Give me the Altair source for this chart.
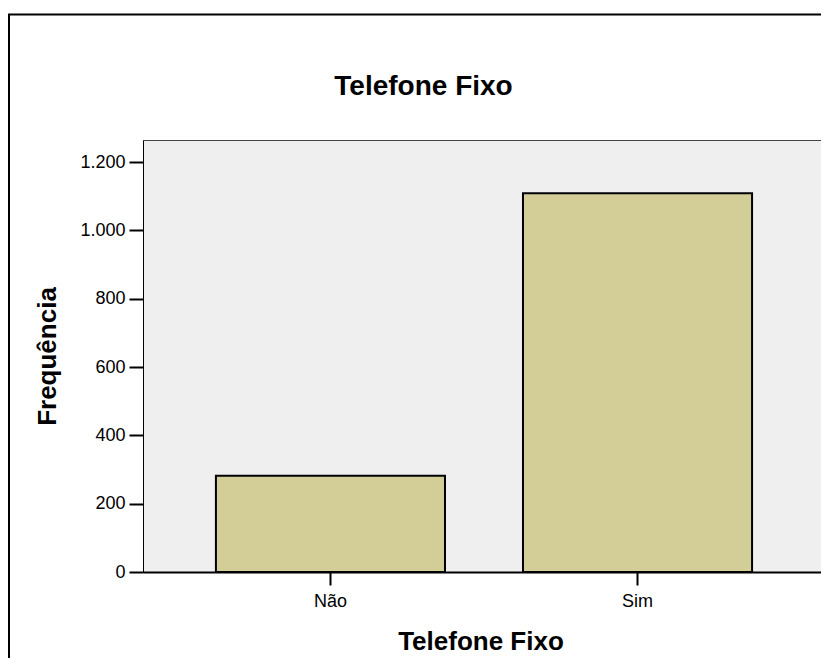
import altair as alt
import pandas as pd

categories = ["Não", "Sim"]
frequencies = [282, 1109]
y_ticks = [0, 200, 400, 600, 800, 1000, 1200]
chart_title = "Telefone Fixo"
x_title = "Telefone Fixo"
y_title = "Frequência"

FONT = "Liberation Sans"

df = pd.DataFrame({"cat": categories, "freq": frequencies})
title_df = pd.DataFrame({"t": [chart_title]})

frame = alt.Chart(title_df).mark_rect(
    fill="white", fillOpacity=0, stroke="black", strokeWidth=2
).encode(
    x=alt.value(-134), x2=alt.value(760), y=alt.value(-125.5), y2=alt.value(640)
)

bars = alt.Chart(df).mark_bar(color="#d3ce98", stroke="black", strokeWidth=2).encode(
    x=alt.X(
        "cat:N",
        sort=categories,
        scale=alt.Scale(paddingInner=0.254, paddingOuter=0.231, align=0.514),
        axis=alt.Axis(
            title=x_title, labelAngle=0, tickSize=13, tickWidth=2, tickColor="black",
            domainColor="black", domainWidth=2,
            labelFont=FONT, labelFontSize=18, labelColor="black", labelPadding=7,
            titleFont=FONT, titleFontSize=26, titleFontWeight="bold", titleColor="black",
            titleX=337.5, titleY=77, titleBaseline="alphabetic", titleAlign="center",
        ),
    ),
    y=alt.Y(
        "freq:Q",
        scale=alt.Scale(domain=[0, 1265], nice=False),
        axis=alt.Axis(
            title=y_title, values=y_ticks,
            labelExpr="replace(format(datum.value, ','), ',', '.')",
            grid=False, tickSize=14, tickWidth=2, tickColor="black",
            domainColor="black", domainWidth=1,
            labelFont=FONT, labelFontSize=18, labelColor="black", labelPadding=4,
            titleFont=FONT, titleFontSize=26, titleFontWeight="bold", titleColor="black",
            titleX=-88, titleY=216, titleBaseline="alphabetic", titleAngle=270,
            titleAlign="center",
        ),
    ),
)

title = alt.Chart(title_df).mark_text(
    font=FONT, fontSize=28, fontWeight="bold", align="center",
    baseline="alphabetic", color="black"
).encode(text="t:N", x=alt.value(280.5), y=alt.value(-45))

chart = alt.layer(frame, bars, title).properties(
    width=678,
    height=432,
    padding={"left": 135, "top": 132, "right": 0, "bottom": 86},
    autosize=alt.AutoSizeParams(type="none"),
    background="white",
).configure_view(fill="#efefef", stroke="#444444", strokeWidth=1)

chart.save("out.html", embed_options={"renderer": "svg", "actions": False})
